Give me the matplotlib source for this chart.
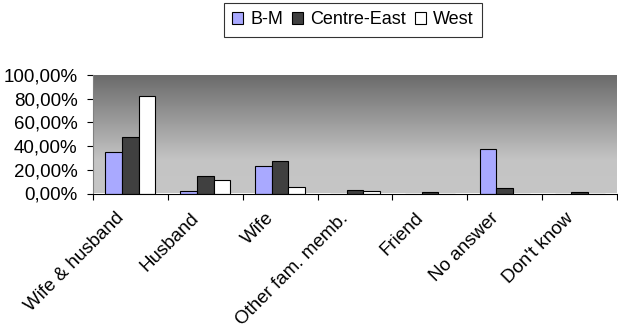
import numpy as np
import matplotlib
matplotlib.use("Agg")
import matplotlib.pyplot as plt
import matplotlib.transforms as mtransforms
from matplotlib.colors import LinearSegmentedColormap
from matplotlib.ticker import FuncFormatter

categories = ["Wife & husband", "Husband", "Wife", "Other fam. memb.",
              "Friend", "No answer", "Don't know"]
series_names = ["B-M", "Centre-East", "West"]
bm = [34.7, 2.5, 23.0, 0.0, 0.0, 37.4, 0.0]
centre_east = [47.3, 14.4, 27.3, 2.8, 1.0, 4.5, 1.0]
west = [82.2, 11.5, 5.6, 1.7, 0.0, 0.0, 0.0]
colors = ["#a9a9ff", "#404040", "#ffffff"]

plt.rcParams["font.family"] = ["Liberation Sans", "DejaVu Sans"]

fig = plt.figure(figsize=(6.18, 3.27), dpi=100)
ax = fig.add_axes([93 / 618, 1 - 193.5 / 327, (617 - 93) / 618, (193.5 - 75) / 327])

# gradient background of the plot area
cmap = LinearSegmentedColormap.from_list(
    "bg", [(0.0, "#6a6a6a"), (0.72, "#c4c4c4"), (1.0, "#c6c6c6")])
grad = np.linspace(0, 1, 256).reshape(-1, 1)
ax.imshow(grad, cmap=cmap, aspect="auto", extent=[0, 1, 0, 1],
          transform=ax.transAxes, zorder=0, origin="upper")

x = np.arange(len(categories))
w = 1 / 4.5
for i, (vals, name) in enumerate(zip([bm, centre_east, west], series_names)):
    ax.bar(x + (i - 1) * w, vals, width=w, color=colors[i],
           edgecolor="black", linewidth=0.8, label=name, zorder=2)

ax.set_xlim(-0.5, len(categories) - 0.5)
ax.set_ylim(0, 100)
ax.set_yticks(np.arange(0, 101, 20))
ax.yaxis.set_major_formatter(FuncFormatter(lambda v, p: f"{v:.2f}".replace(".", ",") + "%"))
ax.set_xticks(np.arange(len(categories) + 1) - 0.5)
ax.set_xticklabels([])
ax.tick_params(axis="x", length=4, direction="out", color="black")
ax.tick_params(axis="y", length=4, labelsize=13.5, color="black", pad=7)

# rotated category labels, anchored just below-left of each category centre
base = ax.get_xaxis_transform()
shift = mtransforms.ScaledTranslation(-15 / 100, -16 / 100, fig.dpi_scale_trans)
for xi, lab in zip(x, categories):
    ax.text(xi, 0, lab, transform=base + shift, rotation=45, ha="right",
            va="top", rotation_mode="anchor", fontsize=13.5, clip_on=False)

for s in ["top", "right"]:
    ax.spines[s].set_visible(False)
ax.spines["left"].set_color("#808080")
ax.spines["bottom"].set_color("black")

leg = fig.legend(loc="center", bbox_to_anchor=(353 / 618, 1 - 20 / 327), ncol=3,
                 frameon=True, fancybox=False, fontsize=13, handlelength=0.6,
                 handleheight=0.6, handletextpad=0.4, columnspacing=0.5,
                 borderpad=0.45, edgecolor="black", shadow=False)
leg.get_frame().set_linewidth(0.8)

fig.savefig("out.png", dpi=100)
